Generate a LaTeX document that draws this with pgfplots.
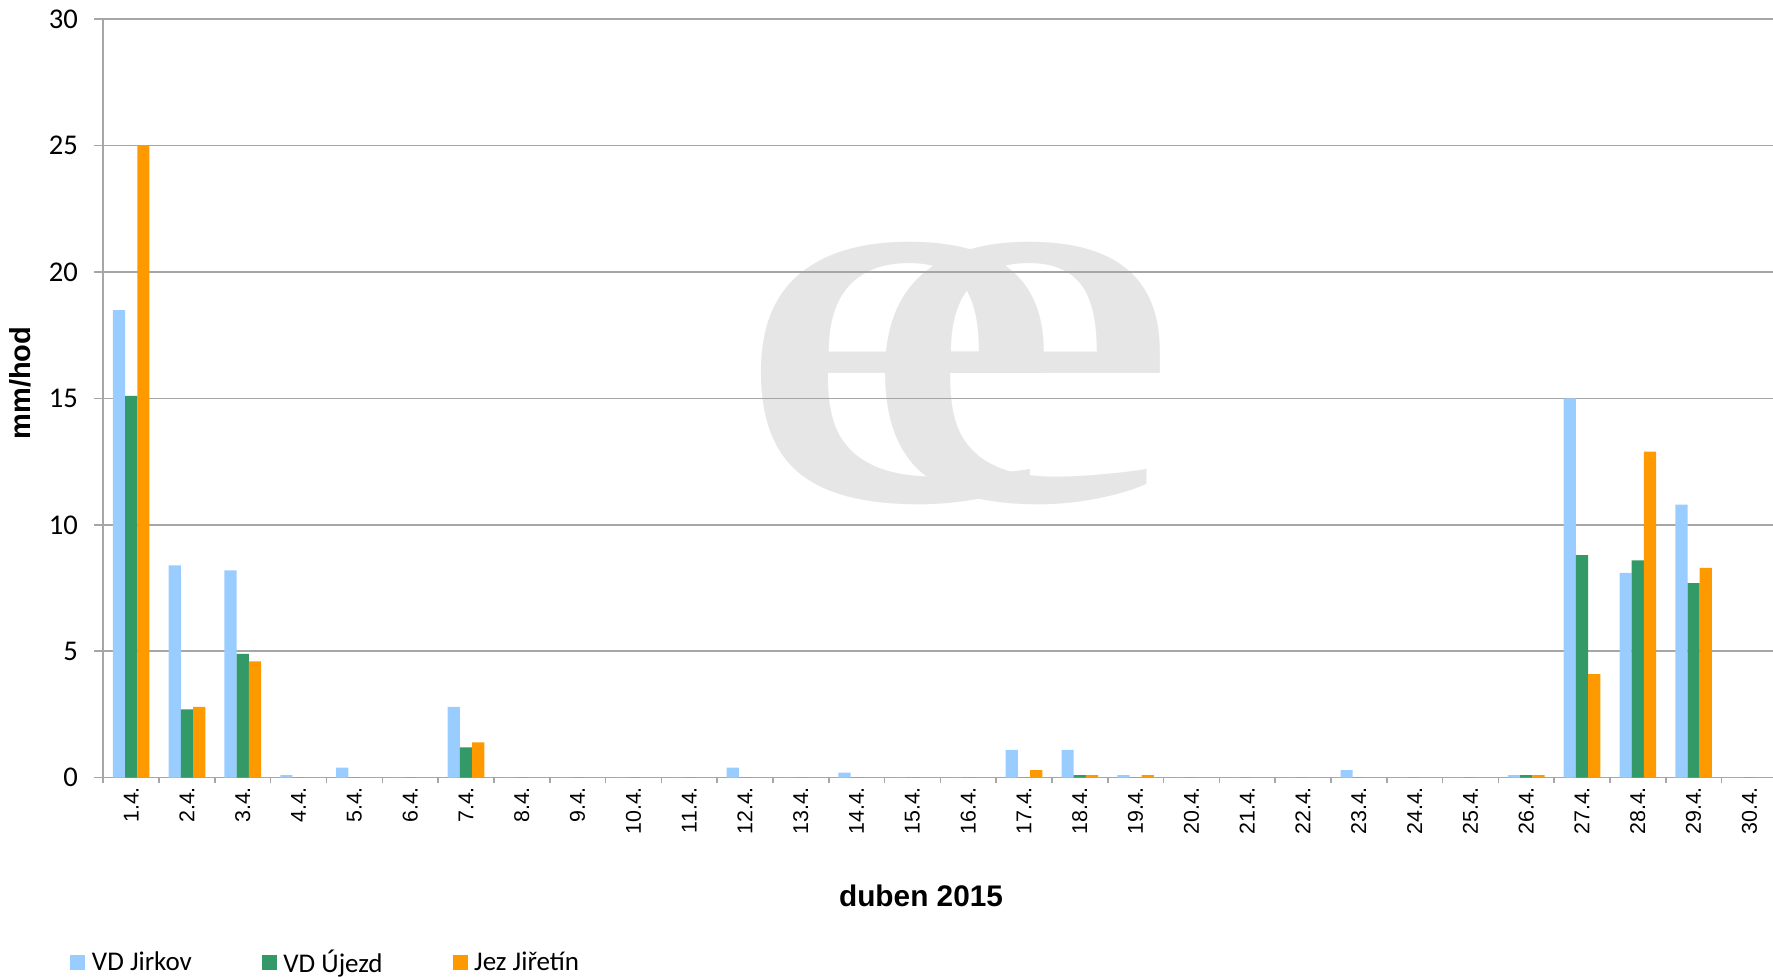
\documentclass[border=0pt]{standalone}
\usepackage{fontspec}
\setmainfont{Liberation Sans}
\newfontfamily\calibri{Carlito}
\newfontfamily\wmfont{Liberation Serif}
\usepackage{graphicx}
\usepackage{pgfplots}
\pgfplotsset{compat=1.18}
\definecolor{cJ}{RGB}{153,204,255}
\definecolor{cU}{RGB}{51,153,102}
\definecolor{cZ}{RGB}{255,153,0}
\definecolor{gridgray}{RGB}{166,166,166}
\definecolor{wm}{RGB}{230,230,230}
\pgfplotsset{sq/.style={legend image code/.code={\fill[##1] (0pt,-3.75pt) rectangle (7.5pt,3.75pt);}}}
\begin{document}
\begin{tikzpicture}
\node[inner sep=0pt, text=wm] at (399pt,202pt) {\scalebox{1.4}[1]{\wmfont\fontsize{273}{273}\selectfont e}};
\node[inner sep=0pt, text=wm] at (459pt,202pt) {\scalebox{1.36}[1]{\wmfont\fontsize{273}{273}\selectfont e}};
\begin{axis}[
  at={(0pt,0pt)}, anchor=south west,
  scale only axis, width=837pt, height=379.2pt,
  xmin=0.5, xmax=30.5, ymin=0, ymax=30,
  ybar=0pt, bar width=6.1pt,
  axis lines*=left,
  axis line style={draw=gridgray, line width=0.8pt},
  ymajorgrids, grid style={draw=gridgray, line width=0.8pt},
  tick align=outside,
  tick style={draw=gridgray, line width=0.8pt},
  major tick length=4.5pt, minor tick length=2.8pt,
  major x tick style={draw=none},
  xtick={1,...,30},
  xticklabels={1.4.,2.4.,3.4.,4.4.,5.4.,6.4.,7.4.,8.4.,9.4.,10.4.,11.4.,12.4.,13.4.,14.4.,15.4.,16.4.,17.4.,18.4.,19.4.,20.4.,21.4.,22.4.,23.4.,24.4.,25.4.,26.4.,27.4.,28.4.,29.4.,30.4.},
  minor xtick={0.5,1.5,...,30.5},
  ytick={0,5,...,30},
  /pgf/number format/assume math mode=true,
  xticklabel style={rotate=90, anchor=east, inner sep=0pt, font=\fontsize{10.7}{12}\selectfont},
  yticklabel style={inner sep=0pt, xshift=-8pt, font=\calibri\fontsize{14.3}{16}\selectfont},
  every axis x label/.style={at={(axis description cs:0.4885,0)}, anchor=base, yshift=-64.65pt, font=\bfseries\fontsize{14.9}{18}\selectfont},
  every axis y label/.style={at={(axis description cs:0,0.5204)}, xshift=-41.4pt, anchor=center, rotate=90, font=\bfseries\fontsize{14.5}{17}\selectfont},
  xlabel={duben 2015},
  ylabel={mm/hod},
  legend columns=3,
  legend style={at={(0,0)}, anchor=west, xshift=-16.4pt, yshift=-92.4pt, draw=none, fill=none, inner sep=0pt, outer sep=0pt,
    font=\calibri\fontsize{13.5}{16}\selectfont,
    nodes={inner sep=0pt},
    /tikz/every odd column/.append style={column sep=3.25pt},
    /tikz/every even column/.append style={column sep=35pt}},
  legend cell align=left,
]
\addplot[fill=cJ, draw=none, sq] coordinates {
(1,18.5) (2,8.4) (3,8.2) (4,0.1) (5,0.4) (6,0) (7,2.8) (8,0) (9,0) (10,0)
(11,0) (12,0.4) (13,0) (14,0.2) (15,0) (16,0) (17,1.1) (18,1.1) (19,0.1) (20,0)
(21,0) (22,0) (23,0.3) (24,0) (25,0) (26,0.1) (27,15.0) (28,8.1) (29,10.8) (30,0)};
\addplot[fill=cU, draw=none, sq] coordinates {
(1,15.1) (2,2.7) (3,4.9) (4,0) (5,0) (6,0) (7,1.2) (8,0) (9,0) (10,0)
(11,0) (12,0) (13,0) (14,0) (15,0) (16,0) (17,0) (18,0.1) (19,0) (20,0)
(21,0) (22,0) (23,0) (24,0) (25,0) (26,0.1) (27,8.8) (28,8.6) (29,7.7) (30,0)};
\addplot[fill=cZ, draw=none, sq] coordinates {
(1,25.0) (2,2.8) (3,4.6) (4,0) (5,0) (6,0) (7,1.4) (8,0) (9,0) (10,0)
(11,0) (12,0) (13,0) (14,0) (15,0) (16,0) (17,0.3) (18,0.1) (19,0.1) (20,0)
(21,0) (22,0) (23,0) (24,0) (25,0) (26,0.1) (27,4.1) (28,12.9) (29,8.3) (30,0)};
\legend{VD Jirkov, VD Újezd, Jez Jiřetín}
\end{axis}
\pgfresetboundingbox
\path[use as bounding box] (-51.65pt,-99.65pt) rectangle (834.85pt,388.85pt);
\end{tikzpicture}
\end{document}
